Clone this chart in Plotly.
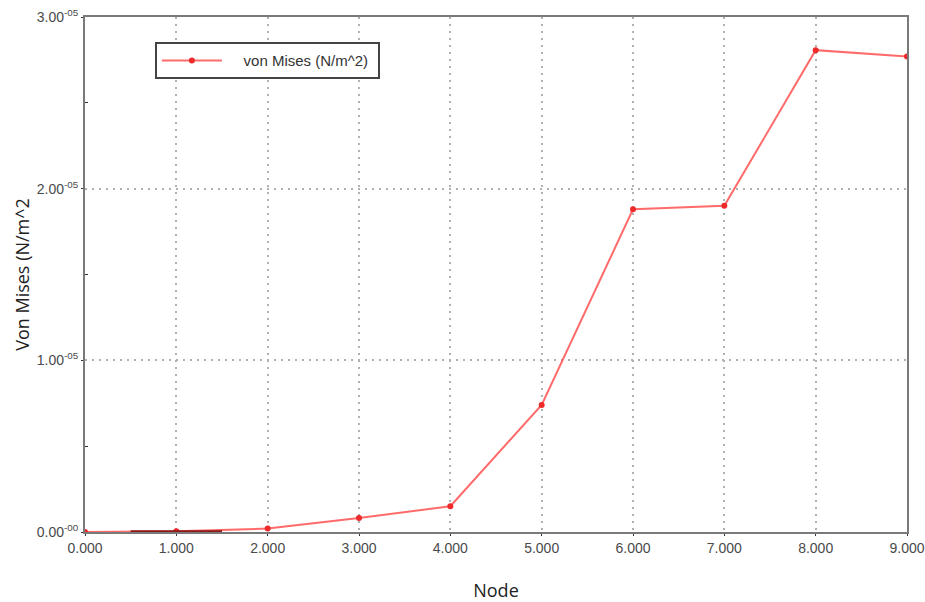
import plotly.graph_objects as go

# Nodal von Mises stress along the path
nodes = [0, 1, 2, 3, 4, 5, 6, 7, 8, 9]
von_mises = [0.0, 0.004e-5, 0.02e-5, 0.081e-5, 0.15e-5, 0.74e-5, 1.88e-5, 1.90e-5, 2.807e-5, 2.77e-5]

x_ticks = [0, 1, 2, 3, 4, 5, 6, 7, 8, 9]
x_tick_text = ["0.000", "1.000", "2.000", "3.000", "4.000", "5.000", "6.000", "7.000", "8.000", "9.000"]
y_ticks = [0, 1e-5, 2e-5, 3e-5]
y_tick_text = ["0.00<sup>-00</sup>", "1.00<sup>-05</sup>", "2.00<sup>-05</sup>", "3.00<sup>-05</sup>"]

# Selected span around node 1
sel_x = [0.5, 1.5]
sel_y = [0.0, 0.0]

tick_font = dict(family="Liberation Sans Narrow, Arial Narrow, Liberation Sans", size=14, color="#4a4a4a")
axis_color = "#7a7a7a"
grid_style = dict(showgrid=True, gridcolor="#b0b0b0", griddash="2px,5px", gridwidth=1.5)

fig = go.Figure()
fig.add_trace(go.Scatter(
    x=nodes, y=von_mises, mode="lines+markers",
    name="\u00a0\u00a0\u00a0\u00a0von Mises (N/m^2)\u00a0",
    line=dict(color="rgba(255,80,80,0.85)", width=2),
    marker=dict(color="#ee2a2a", size=6),
))
fig.add_trace(go.Scatter(
    x=sel_x, y=sel_y, mode="lines",
    line=dict(color="#8b1a1a", width=3.5),
    showlegend=False, hoverinfo="skip",
))

fig.update_layout(
    width=925, height=602,
    margin=dict(l=85, r=18, t=17, b=70),
    paper_bgcolor="white", plot_bgcolor="white",
    font=dict(family="Segoe UI, Open Sans, DejaVu Sans", color="#222222"),
    legend=dict(
        x=0.085, y=0.951, xanchor="left", yanchor="top",
        bordercolor="#444444", borderwidth=2, bgcolor="white",
        font=dict(family="Liberation Sans Narrow, Arial Narrow, Liberation Sans", size=15, color="#333333"),
        itemwidth=60,
    ),
    xaxis=dict(
        range=[0, 9], tickvals=x_ticks, ticktext=x_tick_text, automargin=False,
        tickfont=tick_font, **grid_style,
        showline=True, linecolor=axis_color, linewidth=2, mirror=True,
        ticks="outside", ticklen=2, tickcolor="#333333", zeroline=False,
        title=dict(text="Node", font=dict(size=18, color="#222222"), standoff=30),
    ),
    yaxis=dict(
        range=[0, 3e-5], tickvals=y_ticks, ticktext=y_tick_text, automargin=False,
        tickfont=tick_font, **grid_style,
        showline=True, linecolor=axis_color, linewidth=2, mirror=True,
        ticks="outside", ticklen=2, tickcolor="#333333", zeroline=False,
        minor=dict(tickvals=[0.5e-5, 1.5e-5, 2.5e-5], ticks="inside", ticklen=3, tickcolor="#333333", showgrid=False),
        title=dict(text="Von Mises (N/m^2", font=dict(size=18, color="#222222"), standoff=2),
    ),
)

fig.write_html("out.html")
